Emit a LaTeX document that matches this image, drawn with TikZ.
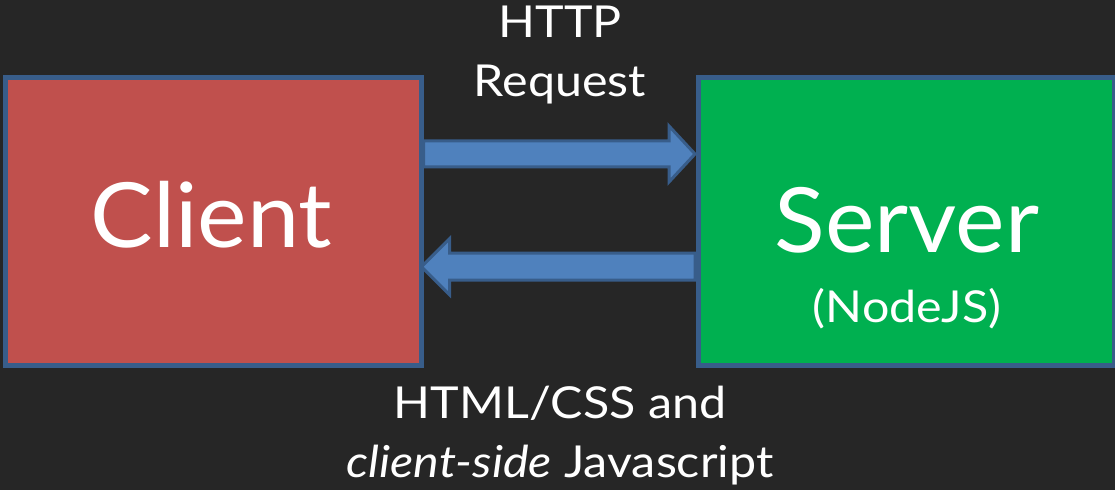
\documentclass[tikz,border=0pt]{standalone}
\usepackage{fontspec}
\setmainfont{Lato}[FakeStretch=1.04]
\newfontfamily\notefont{Lato}[FakeStretch=1.1]
\usetikzlibrary{positioning, calc}
\definecolor{slidebg}{HTML}{262626}
\definecolor{clientred}{HTML}{C0504D}
\definecolor{servergreen}{HTML}{00B050}
\definecolor{edgeblue}{HTML}{385D8A}
\definecolor{arrowblue}{HTML}{4F81BD}

\begin{document}
\begin{tikzpicture}[
        node distance=276.5pt,
        box/.style={rectangle, draw=edgeblue, line width=5pt, minimum width=416pt, minimum height=287.5pt, outer sep=0pt, inner sep=0pt},
        bigtext/.style={text=white, font=\fontsize{90}{90}\selectfont, anchor=base, inner sep=0pt},
        smalltext/.style={text=white, font=\notefont\fontsize{44}{59}\selectfont, align=center, anchor=base, inner sep=0pt},
        fatarrow/.style={draw=edgeblue, fill=arrowblue, line width=3pt}
    ]
        \fill[slidebg] (0,0) rectangle (1115pt,490pt);
        \useasboundingbox (0,0) rectangle (1115pt,490pt);
        \node[box, fill=clientred] (client) at (213.5pt,268.75pt) {};
        \node[box, fill=servergreen, right=of client] (server) {};
        \node[bigtext] (clientname) at ($(client.center)+(-2pt,-26pt)$) {Client};
        \node[bigtext] (servername) at ($(server.center)+(1pt,-31pt)$) {Server};
        \node[smalltext] (servernote) at ($(servername.base)+(0,-70pt)$) {(NodeJS)};
        \coordinate (reqlevel) at (0,336pt);
        \coordinate (resplevel) at (0,223.3pt);
        \draw[fatarrow] ($(client.east |- reqlevel)+(2pt,13pt)$) -- ($(server.west |- reqlevel)+(-29pt,13pt)$) -- ++(0,15pt) -- ($(server.west |- reqlevel)+(-3pt,0)$) -- ($(server.west |- reqlevel)+(-29pt,-28pt)$) -- ++(0,15pt) -- ($(client.east |- reqlevel)+(2pt,-13pt)$) -- cycle;
        \draw[fatarrow] ($(server.west |- resplevel)+(-3pt,13.5pt)$) -- ($(client.east |- resplevel)+(28pt,13.5pt)$) -- ++(0,14.5pt) -- (client.east |- resplevel) -- ($(client.east |- resplevel)+(28pt,-28pt)$) -- ++(0,14.5pt) -- ($(server.west |- resplevel)+(-3pt,-13.5pt)$) -- cycle;
        \node[smalltext] (reqlabel) at (560pt,393pt) {HTTP\\Request};
        \node[smalltext] (resplabel) at (560pt,13pt) {HTML/CSS and\\\textit{client-side} Javascript};
    \end{tikzpicture}
\end{document}
